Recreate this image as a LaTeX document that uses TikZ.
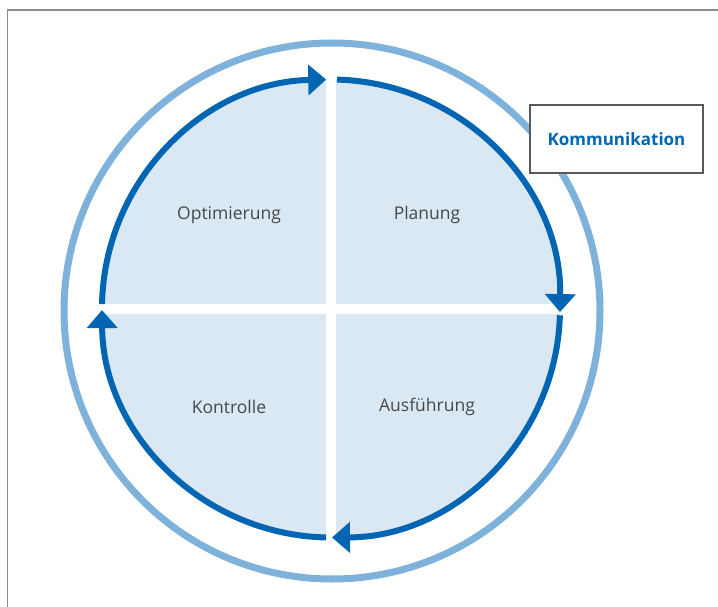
\documentclass[tikz,border=0pt]{standalone}
\usepackage{fontspec}
\setmainfont{Open Sans}
\usetikzlibrary{arrows.meta,calc}
\definecolor{cycleblue}{HTML}{0066B3}
\definecolor{ringblue}{HTML}{7FB2DB}
\definecolor{quadfill}{HTML}{D9E8F3}
\definecolor{labelgray}{HTML}{474747}
\definecolor{framegray}{HTML}{8A8A8A}
\begin{document}
\begin{tikzpicture}[x=1pt,y=-1pt,
  phase/.style={font=\fontsize{17.5}{20}\selectfont, text=labelgray},
  cyclearc/.style={draw=cycleblue, line width=6pt, line cap=butt},
  cyclehead/.style={-{Triangle[length=18pt,width=30pt]}},
  gap/.style={draw=white, line width=10pt}]
  \useasboundingbox (0,0) rectangle (718,607);
  % outer frame lines
  \draw[framegray, line width=1.6pt] (7.5,607) -- (7.5,10) -- (718,10);
  % communication ring
  \coordinate (ringc) at (332,311);
  \draw[ringblue, line width=7pt] (ringc) circle[radius=268];
  % phase disc and separating cross
  \coordinate (c) at (331,308.5);
  \fill[quadfill] (c) circle[radius=229];
  \coordinate (ctop) at ($(c)+(0,-236)$);
  \coordinate (cbot) at ($(c)+(0,236)$);
  \coordinate (cleft) at ($(c)+(-236,0)$);
  \coordinate (cright) at ($(c)+(236,0)$);
  \draw[gap] (ctop) -- (cbot);
  \draw[gap] (cleft) -- (cright);
  % four cycle arcs, clockwise on the page (y axis points down)
  \def\R{229}
  \draw[cyclearc,cyclehead] ($(c)+(-178.9:\R)$) arc[start angle=-178.9, end angle=-91.2, radius=\R];
  \draw[cyclearc,cyclehead] ($(c)+(-88.5:\R)$) arc[start angle=-88.5, end angle=0.9, radius=\R];
  \draw[cyclearc,cyclehead] ($(c)+(1.7:\R)$) arc[start angle=1.7, end angle=89.75, radius=\R];
  \draw[cyclearc,cyclehead] ($(c)+(91.25:\R)$) arc[start angle=91.25, end angle=179.6, radius=\R];
  % phase labels
  \node[phase] (opt) at (229,215) {Optimierung};
  \node[phase] (plan) at (427,215) {Planung};
  \node[phase] (kontr) at (229,407) {Kontrolle};
  \node[phase] (ausf) at (427,407) {Ausführung};
  % communication label
  \node[draw=black!65, line width=1.2pt, fill=white, minimum width=173pt, minimum height=68pt,
        text=cycleblue, font=\bfseries\fontsize{17}{20}\selectfont] (komm) at (616.5,139) {Kommunikation};
\end{tikzpicture}
\end{document}
